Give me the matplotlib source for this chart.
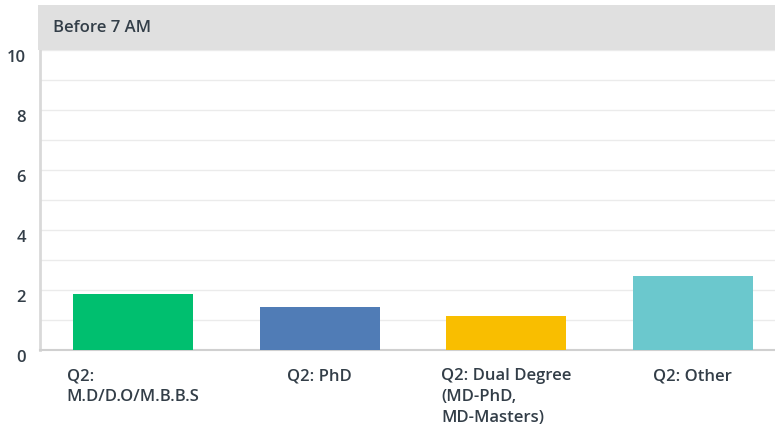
import matplotlib
matplotlib.use("Agg")
import matplotlib.pyplot as plt
from matplotlib.patches import Rectangle

categories = ["Q2:\nM.D/D.O/M.B.B.S", "Q2: PhD", "Q2: Dual Degree\n(MD-PhD,\nMD-Masters)", "Q2: Other"]
values = [1.87, 1.43, 1.13, 2.47]
colors = ["#00bf6f", "#507cb6", "#f9be00", "#6bc8cd"]
yticks = [0, 2, 4, 6, 8, 10]
title = "Before 7 AM"

W, H = 775, 428
txt = "#333e48"
plt.rcParams['font.family'] = ['Open Sans', 'DejaVu Sans']

fig = plt.figure(figsize=(W / 100, H / 100), dpi=100)
ax = fig.add_axes([40 / W, (H - 350) / H, (W - 40) / W, 300 / H])

x = range(len(categories))
ax.bar(x, values, width=0.643, color=colors, zorder=3)
ax.set_xlim(-0.5, 3.44)
ax.set_ylim(0, 10)
ax.set_yticks(yticks)
ax.set_yticklabels([str(t) for t in yticks], fontsize=12, fontweight='semibold', color=txt)
for t in ax.get_yticklabels():
    t.set_verticalalignment('top')
ax.set_yticks(range(0, 11), minor=True)
ax.tick_params(axis='y', length=0, pad=10, which='both')
ax.tick_params(axis='x', length=0)
ax.set_xticks([])
ax.grid(axis='y', which='both', color='#ebebeb', linewidth=1, zorder=0)
for s in ['top', 'right']:
    ax.spines[s].set_visible(False)
ax.spines['left'].set_color('#d9d9d9')
ax.spines['left'].set_linewidth(2)
ax.spines['bottom'].set_color('#d0d0d0')
ax.spines['bottom'].set_linewidth(1.5)

for i, c in enumerate(categories):
    ax.annotate(c, xy=(i, 0), xycoords='data', xytext=(0, -13), textcoords='offset points',
                ha='center', va='top', multialignment='left', fontsize=12,
                fontweight='semibold', color=txt, linespacing=1.4)

fig.patches.append(Rectangle((38 / W, (H - 50) / H), (W - 38) / W, 45 / H,
                             transform=fig.transFigure, facecolor='#e0e0e0',
                             edgecolor='none', zorder=0))
fig.text(53 / W, (H - 28) / H, title, ha='left', va='center', fontsize=12,
         fontweight='semibold', color=txt)

fig.savefig("out.png", dpi=100)
